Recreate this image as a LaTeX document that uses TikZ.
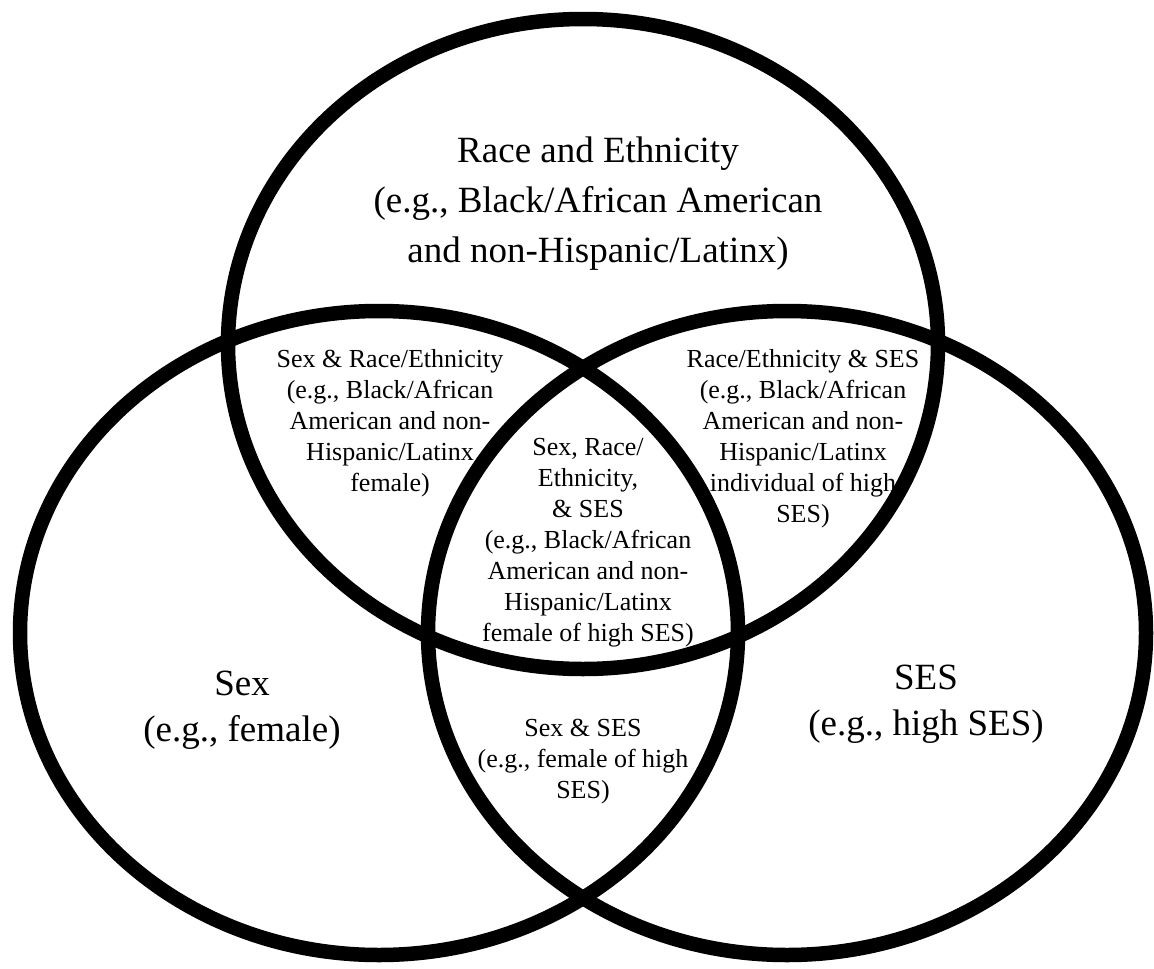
\documentclass[tikz,border=0pt]{standalone}
\usepackage{fontspec}
\setmainfont{Liberation Serif}
\tikzset{
  vennline/.style={line width=14.5pt, black},
  bigtext/.style={font=\fontsize{37}{50}\selectfont, align=center, inner sep=0pt},
  labeltext/.style={font=\fontsize{37}{46}\selectfont, align=center, inner sep=0pt},
  smalltext/.style={font=\fontsize{26}{31}\selectfont, align=center, inner sep=0pt}
}
\begin{document}
\begin{tikzpicture}[x=1pt,y=-1pt]
\useasboundingbox[fill=white] (0,0) rectangle (1154,969);
% circles
\draw[vennline] (583,344) ellipse [x radius=355pt, y radius=325pt];
\draw[vennline] (379,633) ellipse [x radius=359pt, y radius=322pt];
\draw[vennline] (787,633) ellipse [x radius=359pt, y radius=322pt];
% labels
\node[bigtext] (race) at (598,204) {Race and Ethnicity\\(e.g., Black/African American\\and non-Hispanic/Latinx)};
\node[labeltext] (sex) at (242,710) {Sex\\(e.g., female)};
\node[labeltext] (ses) at (926,704) {SES\\(e.g., high SES)};
\node[smalltext] (sexrace) at (390,423) {Sex \& Race/Ethnicity\\(e.g., Black/African\\American and non-\\Hispanic/Latinx\\female)};
\node[smalltext] (raceses) at (803,439) {Race/Ethnicity \& SES\\(e.g., Black/African\\American and non-\\Hispanic/Latinx\\individual of high\\SES)};
\node[smalltext] (all) at (588,543) {Sex, Race/\\Ethnicity,\\\& SES\\(e.g., Black/African\\American and non-\\Hispanic/Latinx\\female of high SES)};
\node[smalltext] (sexses) at (583,762) {Sex \& SES\\(e.g., female of high\\SES)};
\end{tikzpicture}
\end{document}
